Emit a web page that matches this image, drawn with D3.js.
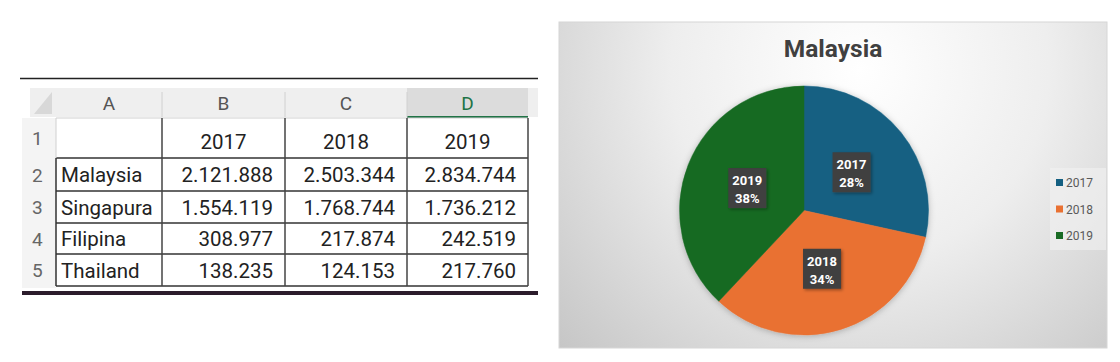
<!DOCTYPE html>
<html>
<head>
<meta charset="utf-8">
<script src="https://cdn.jsdelivr.net/npm/d3@7"></script>
<style>
  body { margin: 0; background: #fff; }
  svg { display: block; }
</style>
</head>
<body>
<div id="chart"></div>
<script>
var colLetters = ["A", "B", "C", "D"];
var years = ["2017", "2018", "2019"];
var countries = ["Malaysia", "Singapura", "Filipina", "Thailand"];
var v2017 = [2121888, 1554119, 308977, 138235];
var v2018 = [2503344, 1768744, 217874, 124153];
var v2019 = [2834744, 1736212, 242519, 217760];
var pieColors = ["#156082", "#e97132", "#196b24"];

var svgWidth = 1120, svgHeight = 362;
var svg = d3.select("#chart").append("svg")
  .attr("width", svgWidth)
  .attr("height", svgHeight);

var defs = svg.append("defs");

// number format with dots as thousand separators
var locale = d3.formatLocale({decimal: ",", thousands: ".", grouping: [3], currency: ["", ""]});
var fmt = locale.format(",d");

// ---------------- spreadsheet ----------------
var table = svg.append("g");
var colX = [56, 162, 285, 407, 528];     // column edges A..D
var hdrTop = 88, hdrBottom = 117;
var rowY = [118, 158, 191, 223, 254, 286]; // row edges 1..5

// top rule
table.append("line").attr("x1", 20).attr("x2", 538).attr("y1", 78.5).attr("y2", 78.5)
  .attr("stroke", "#222").attr("stroke-width", 1.5);

// header band
table.append("rect").attr("x", 30).attr("y", hdrTop).attr("width", 508).attr("height", hdrBottom - hdrTop)
  .attr("fill", "#efefef");
table.append("rect").attr("x", colX[3]).attr("y", hdrTop).attr("width", colX[4] - colX[3]).attr("height", hdrBottom - hdrTop)
  .attr("fill", "#dcdcdc");
table.append("line").attr("x1", colX[3]).attr("x2", colX[4]).attr("y1", hdrBottom).attr("y2", hdrBottom)
  .attr("stroke", "#217346").attr("stroke-width", 2);
// corner triangle
table.append("path").attr("d", "M52,92 L52,114 L34,114 Z").attr("fill", "#d8d8d8");

// row number column
table.append("rect").attr("x", 22).attr("y", hdrBottom + 1).attr("width", colX[0] - 22).attr("height", rowY[5] - hdrBottom + 1)
  .attr("fill", "#f4f4f4");

// header separators
colX.slice(1, 4).forEach(function(x) {
  table.append("line").attr("x1", x).attr("x2", x).attr("y1", hdrTop + 4).attr("y2", hdrBottom)
    .attr("stroke", "#d0d0d0");
});

table.selectAll(".colLetter").data(colLetters).enter().append("text")
  .attr("x", (d, i) => (colX[i] + colX[i + 1]) / 2)
  .attr("y", 110)
  .attr("text-anchor", "middle")
  .attr("font-family", "Roboto, 'Liberation Sans', sans-serif")
  .attr("font-size", 19)
  .attr("fill", (d, i) => i === 3 ? "#217346" : "#555")
  .text(d => d);

table.selectAll(".rowNum").data(d3.range(1, 6)).enter().append("text")
  .attr("x", 32)
  .attr("y", (d, i) => (rowY[i] + rowY[i + 1]) / 2 + 7)
  .attr("font-family", "Roboto, 'Liberation Sans', sans-serif")
  .attr("font-size", 19)
  .attr("fill", "#666")
  .text(d => d);

// cell backgrounds
table.append("rect").attr("x", colX[0]).attr("y", rowY[0]).attr("width", colX[4] - colX[0]).attr("height", rowY[5] - rowY[0])
  .attr("fill", "#fff");

// grid lines
rowY.forEach(function(y, i) {
  table.append("line").attr("x1", colX[0]).attr("x2", colX[4]).attr("y1", y).attr("y2", y)
    .attr("stroke", i === 0 ? "#cfcfcf" : "#333").attr("stroke-width", i === 0 ? 1 : 1.5);
});
colX.forEach(function(x, i) {
  table.append("line").attr("x1", x).attr("x2", x).attr("y1", i === 0 ? rowY[1] : rowY[0]).attr("y2", rowY[5])
    .attr("stroke", i === 0 ? "#333" : "#444").attr("stroke-width", 1.5);
});
table.append("line").attr("x1", colX[0]).attr("x2", colX[0]).attr("y1", rowY[0]).attr("y2", rowY[1])
  .attr("stroke", "#d0d0d0");

var cellFont = "Roboto, 'Liberation Sans', sans-serif";
// year headers
table.selectAll(".yearHdr").data(years).enter().append("text")
  .attr("x", (d, i) => (colX[i + 1] + colX[i + 2]) / 2)
  .attr("y", 149)
  .attr("text-anchor", "middle")
  .attr("font-family", cellFont).attr("font-size", 20.5).attr("fill", "#222")
  .text(d => d);

// country names
table.selectAll(".country").data(countries).enter().append("text")
  .attr("x", 61)
  .attr("y", (d, i) => (rowY[i + 1] + rowY[i + 2]) / 2 + 7.5)
  .attr("font-family", cellFont).attr("font-size", 20.5).attr("fill", "#222")
  .text(d => d);

// values
[v2017, v2018, v2019].forEach(function(vals, c) {
  table.selectAll(".val" + c).data(vals).enter().append("text")
    .attr("x", colX[c + 2] - 12)
    .attr("y", (d, i) => (rowY[i + 1] + rowY[i + 2]) / 2 + 7.5)
    .attr("text-anchor", "end")
    .attr("font-family", cellFont).attr("font-size", 20.5).attr("fill", "#222")
    .text(d => fmt(d));
});

// heavy bottom rule
table.append("line").attr("x1", 22).attr("x2", 538).attr("y1", 293).attr("y2", 293)
  .attr("stroke", "#2b1c2b").attr("stroke-width", 4);

// ---------------- pie chart panel ----------------
var panel = {x: 559, y: 22, w: 548, h: 326};

var grad = defs.append("radialGradient").attr("id", "bg")
  .attr("gradientUnits", "userSpaceOnUse")
  .attr("cx", 860).attr("cy", 70).attr("r", 420);
grad.append("stop").attr("offset", "0%").attr("stop-color", "#ffffff");
grad.append("stop").attr("offset", "45%").attr("stop-color", "#eeeeee");
grad.append("stop").attr("offset", "100%").attr("stop-color", "#c4c4c4");

var shadow = defs.append("filter").attr("id", "shadow")
  .attr("x", "-20%").attr("y", "-20%").attr("width", "140%").attr("height", "140%");
shadow.append("feDropShadow").attr("dx", 0).attr("dy", 1).attr("stdDeviation", 3)
  .attr("flood-color", "#000").attr("flood-opacity", 0.25);

var lblShadow = defs.append("filter").attr("id", "lblShadow")
  .attr("x", "-30%").attr("y", "-30%").attr("width", "160%").attr("height", "160%");
lblShadow.append("feDropShadow").attr("dx", 1.5).attr("dy", 1.5).attr("stdDeviation", 1.5)
  .attr("flood-color", "#000").attr("flood-opacity", 0.35);

svg.append("rect")
  .attr("x", panel.x).attr("y", panel.y).attr("width", panel.w).attr("height", panel.h)
  .attr("fill", "url(#bg)")
  .attr("stroke", "#d6d6d6");

svg.append("text")
  .attr("x", 833).attr("y", 57)
  .attr("text-anchor", "middle")
  .attr("font-family", "Roboto, 'Liberation Sans', sans-serif")
  .attr("font-weight", "bold")
  .attr("font-size", 24.5)
  .attr("fill", "#404040")
  .text("Malaysia");

var malaysia = years.map(function(y, i) {
  return {year: y, value: [v2017, v2018, v2019][i][0]};
});
var total = d3.sum(malaysia, d => d.value);

var cx = 804, cy = 210.5, radius = 124.5;
var pie = d3.pie().sort(null).value(d => d.value);
var arc = d3.arc().innerRadius(0).outerRadius(radius);
var labelArc = d3.arc().innerRadius(61).outerRadius(61);
var color = d3.scaleOrdinal().domain(years).range(pieColors);

var pieGroup = svg.append("g").attr("transform", `translate(${cx}, ${cy})`);

pieGroup.append("g").attr("filter", "url(#shadow)")
  .selectAll("path")
  .data(pie(malaysia))
  .enter()
  .append("path")
  .attr("d", arc)
  .attr("fill", d => color(d.data.year))
  .attr("stroke", d => color(d.data.year))
  .attr("stroke-width", 0.5);

var labels = pieGroup.selectAll(".lbl")
  .data(pie(malaysia))
  .enter()
  .append("g")
  .attr("transform", d => `translate(${labelArc.centroid(d)})`);

labels.append("rect")
  .attr("x", -19).attr("y", -20).attr("width", 38).attr("height", 40)
  .attr("fill", "#404040")
  .attr("filter", "url(#lblShadow)");

labels.append("text")
  .attr("text-anchor", "middle")
  .attr("font-family", "Roboto, 'Liberation Sans', sans-serif")
  .attr("font-weight", "bold")
  .attr("font-size", 13)
  .attr("fill", "#fff")
  .selectAll("tspan")
  .data(d => [d.data.year, Math.round(d.data.value / total * 100) + "%"])
  .enter()
  .append("tspan")
  .attr("x", 0)
  .attr("y", (d, i) => i === 0 ? -3 : 15)
  .text(d => d);

// legend
var legend = svg.append("g").attr("transform", "translate(1050, 168)");
legend.append("rect").attr("x", 0).attr("y", 0).attr("width", 56).attr("height", 82)
  .attr("fill", "#f1f1f1").attr("opacity", 0.6);
var items = legend.selectAll(".item").data(years).enter().append("g")
  .attr("transform", (d, i) => `translate(6, ${15 + i * 26.5})`);
items.append("rect").attr("x", 0).attr("y", -4).attr("width", 7).attr("height", 7)
  .attr("fill", d => color(d));
items.append("text").attr("x", 10).attr("y", 4)
  .attr("font-family", "Roboto, 'Liberation Sans', sans-serif")
  .attr("font-size", 12)
  .attr("fill", "#595959")
  .text(d => d);
</script>
</body>
</html>
